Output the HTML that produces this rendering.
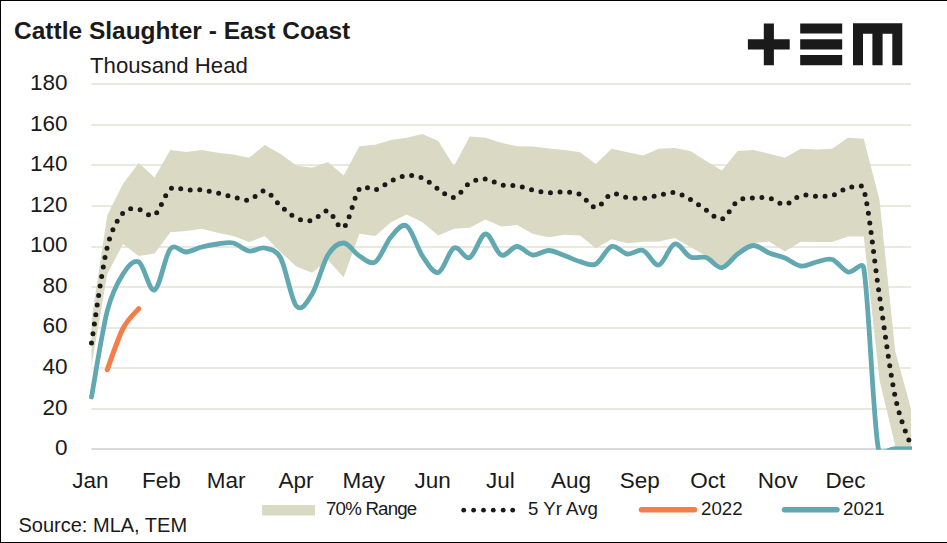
<!DOCTYPE html>
<html><head><meta charset="utf-8">
<style>
html,body{margin:0;padding:0;background:#fff;}
body{width:947px;height:543px;position:relative;overflow:hidden;font-family:"Liberation Sans",sans-serif;color:#1a1a1a;}
.frame{position:absolute;left:0;top:0;width:947px;height:543px;box-sizing:border-box;border-top:1px solid #000;border-left:1px solid #000;border-bottom:1px solid #000;}
svg{position:absolute;left:0;top:0;}
.t{position:absolute;white-space:nowrap;line-height:1;}
.title{left:14px;top:19px;font-size:24.5px;font-weight:bold;}
.sub{left:90px;top:54.9px;font-size:22.2px;}
.yl{position:absolute;right:879.5px;font-size:22.5px;line-height:22.5px;margin-top:-11.6px;white-space:nowrap;}
.xl{position:absolute;top:469.6px;font-size:22.5px;line-height:22.5px;white-space:nowrap;transform:translateX(-50%);}
.leg{position:absolute;top:499.7px;font-size:18.7px;line-height:18.7px;white-space:nowrap;}
.src{left:18.5px;top:515.3px;font-size:20px;}
</style></head><body>
<div class="frame"></div>
<svg width="947" height="543" viewBox="0 0 947 543">
  <defs><clipPath id="pc"><rect x="0" y="0" width="912" height="449.8"/></clipPath></defs>
  <g stroke="#e9e9dd" stroke-width="2"><line x1="91.5" y1="409.00" x2="911" y2="409.00"/><line x1="91.5" y1="368.00" x2="911" y2="368.00"/><line x1="91.5" y1="328.00" x2="911" y2="328.00"/><line x1="91.5" y1="287.00" x2="911" y2="287.00"/><line x1="91.5" y1="247.00" x2="911" y2="247.00"/><line x1="91.5" y1="206.00" x2="911" y2="206.00"/><line x1="91.5" y1="165.00" x2="911" y2="165.00"/><line x1="91.5" y1="125.00" x2="911" y2="125.00"/><line x1="91.5" y1="84.00" x2="911" y2="84.00"/></g>
  <path d="M91.50,320.00 L107.26,215.50 L123.02,183.80 L138.78,163.10 L154.54,177.50 L170.30,150.10 L186.06,152.00 L201.82,150.10 L217.58,152.70 L233.34,154.50 L249.10,157.80 L264.86,145.00 L280.62,154.00 L296.38,165.50 L312.14,167.70 L327.90,162.10 L343.66,175.40 L359.42,146.20 L375.18,144.80 L390.94,140.00 L406.70,137.70 L422.46,134.00 L438.22,141.10 L453.98,166.10 L469.74,136.60 L485.50,137.70 L501.26,142.80 L517.02,146.20 L532.78,146.60 L548.54,148.40 L564.30,150.00 L580.06,152.20 L595.82,163.90 L611.58,148.80 L627.34,152.20 L643.10,155.50 L658.86,148.80 L674.62,147.90 L690.38,151.00 L706.14,161.00 L721.90,170.60 L737.66,151.00 L753.42,149.90 L769.18,153.70 L784.94,157.70 L800.70,148.80 L816.46,149.50 L832.22,148.80 L847.98,137.70 L863.74,138.80 L879.50,200.00 L895.26,351.60 L911.02,409.00 L911.02,446.00 L895.26,446.00 L879.50,380.00 L863.74,236.60 L847.98,236.60 L832.22,242.10 L816.46,242.10 L800.70,241.70 L784.94,251.40 L769.18,241.60 L753.42,243.00 L737.66,253.00 L721.90,266.00 L706.14,256.00 L690.38,247.00 L674.62,238.10 L658.86,241.50 L643.10,241.70 L627.34,243.20 L611.58,239.20 L595.82,248.30 L580.06,235.50 L564.30,234.80 L548.54,237.30 L532.78,233.70 L517.02,225.10 L501.26,226.60 L485.50,219.50 L469.74,227.70 L453.98,228.80 L438.22,235.50 L422.46,222.20 L406.70,214.40 L390.94,222.20 L375.18,236.10 L359.42,233.70 L343.66,277.20 L327.90,259.90 L312.14,272.70 L296.38,266.50 L280.62,252.00 L264.86,236.10 L249.10,242.10 L233.34,236.10 L217.58,232.80 L201.82,228.80 L186.06,231.00 L170.30,232.20 L154.54,253.40 L138.78,256.00 L123.02,244.00 L107.26,274.00 L91.50,366.00 Z" fill="#d9d9c4"/>
  <line x1="91.5" y1="449" x2="911.5" y2="449" stroke="#d9d9d9" stroke-width="2"/>
  <g clip-path="url(#pc)"><path d="M91.50,343.00 C94.13,327.00 102.01,268.67 107.26,247.00 C111.68,228.79 117.77,219.25 123.02,213.00 C128.21,206.82 133.53,209.17 138.78,209.50 C144.03,209.83 149.29,218.42 154.54,215.00 C159.79,211.58 165.05,193.17 170.30,189.00 C175.55,184.83 180.81,189.83 186.06,190.00 C191.31,190.17 196.57,189.50 201.82,190.00 C207.07,190.50 212.33,191.83 217.58,193.00 C222.83,194.17 228.09,195.83 233.34,197.00 C238.59,198.17 243.85,201.00 249.10,200.00 C254.35,199.00 259.61,190.00 264.86,191.00 C270.11,192.00 275.37,201.50 280.62,206.00 C285.87,210.50 291.13,215.58 296.38,218.00 C301.63,220.42 306.89,221.67 312.14,220.50 C317.39,219.33 322.65,209.83 327.90,211.00 C333.15,212.17 338.41,231.17 343.66,227.50 C348.91,223.83 354.17,195.25 359.42,189.00 C364.50,182.96 369.93,191.33 375.18,190.00 C380.43,188.67 385.69,183.42 390.94,181.00 C396.19,178.58 401.45,176.00 406.70,175.50 C411.95,175.00 417.21,175.75 422.46,178.00 C427.71,180.25 432.97,185.75 438.22,189.00 C443.47,192.25 448.73,198.50 453.98,197.50 C459.23,196.50 464.49,186.08 469.74,183.00 C474.99,179.92 480.25,178.70 485.50,179.00 C490.75,179.30 496.01,183.67 501.26,184.80 C506.51,185.93 511.77,184.93 517.02,185.80 C522.27,186.67 527.53,188.85 532.78,190.00 C538.03,191.15 543.29,192.37 548.54,192.70 C553.79,193.03 559.05,191.70 564.30,192.00 C569.55,192.30 574.81,191.92 580.06,194.50 C585.31,197.08 590.57,207.58 595.82,207.50 C601.07,207.42 606.33,195.67 611.58,194.00 C616.83,192.33 622.09,196.78 627.34,197.50 C632.59,198.22 637.85,198.67 643.10,198.30 C648.35,197.93 653.61,196.27 658.86,195.30 C664.11,194.33 669.37,191.80 674.62,192.50 C679.87,193.20 685.13,196.58 690.38,199.50 C695.63,202.42 700.89,206.75 706.14,210.00 C711.39,213.25 716.65,220.50 721.90,219.00 C727.15,217.50 732.41,204.50 737.66,201.00 C742.91,197.50 748.17,198.50 753.42,198.00 C758.67,197.50 763.93,196.92 769.18,198.00 C774.43,199.08 779.69,204.92 784.94,204.50 C790.19,204.08 795.45,196.87 800.70,195.50 C805.95,194.13 811.21,196.32 816.46,196.30 C821.71,196.28 826.97,196.78 832.22,195.40 C837.47,194.02 842.73,188.98 847.98,188.00 C853.23,187.02 861.52,181.90 863.74,189.50 C868.99,207.50 874.25,261.42 879.50,296.00 C884.75,330.58 890.01,372.00 895.26,397.00 C900.51,422.00 908.39,437.83 911.02,446.00" fill="none" stroke="#1a1a1a" stroke-width="5" stroke-linecap="round" stroke-dasharray="0 9.6"/>
  <path d="M91.50,397.00 C94.13,382.67 102.01,331.50 107.26,311.00 C112.25,291.52 117.77,282.17 123.02,274.00 C128.27,265.83 133.53,259.33 138.78,262.00 C144.03,264.67 149.29,292.17 154.54,290.00 C159.79,287.83 165.05,255.33 170.30,249.00 C175.42,242.83 180.81,252.33 186.06,252.00 C191.31,251.67 196.57,248.33 201.82,247.00 C207.07,245.67 212.33,244.67 217.58,244.00 C222.83,243.33 228.09,241.83 233.34,243.00 C238.59,244.17 243.85,250.17 249.10,251.00 C254.35,251.83 259.61,246.83 264.86,248.00 C270.11,249.17 276.16,249.80 280.62,258.00 C285.87,267.67 291.13,300.00 296.38,306.00 C301.63,312.00 306.93,302.43 312.14,294.00 C317.39,285.50 322.65,263.50 327.90,255.00 C333.11,246.57 338.41,242.83 343.66,243.00 C348.91,243.17 354.17,252.83 359.42,256.00 C364.67,259.17 369.93,265.17 375.18,262.00 C380.43,258.83 385.69,243.00 390.94,237.00 C396.19,231.00 401.45,222.83 406.70,226.00 C411.95,229.17 417.21,248.25 422.46,256.00 C427.71,263.75 432.97,273.83 438.22,272.50 C443.47,271.17 448.73,250.50 453.98,248.00 C459.23,245.50 464.49,259.83 469.74,257.50 C474.99,255.17 480.25,234.42 485.50,234.00 C490.75,233.58 496.01,252.92 501.26,255.00 C506.51,257.08 511.77,246.50 517.02,246.50 C522.27,246.50 527.53,254.33 532.78,255.00 C538.03,255.67 543.29,250.43 548.54,250.50 C553.79,250.57 559.05,253.55 564.30,255.40 C569.55,257.25 574.81,260.17 580.06,261.60 C585.31,263.03 590.57,266.52 595.82,264.00 C601.07,261.48 606.33,248.17 611.58,246.50 C616.83,244.83 622.09,253.33 627.34,254.00 C632.59,254.67 637.85,248.67 643.10,250.50 C648.35,252.33 653.61,266.08 658.86,265.00 C664.11,263.92 669.37,245.33 674.62,244.00 C679.87,242.67 685.13,254.73 690.38,257.00 C695.63,259.27 700.89,255.83 706.14,257.60 C711.39,259.37 716.65,268.20 721.90,267.60 C727.15,267.00 732.41,257.68 737.66,254.00 C742.91,250.32 748.17,245.67 753.42,245.50 C758.67,245.33 763.93,250.92 769.18,253.00 C774.43,255.08 779.69,255.83 784.94,258.00 C790.19,260.17 795.45,265.33 800.70,266.00 C805.95,266.67 811.21,263.08 816.46,262.00 C821.71,260.92 826.97,257.83 832.22,259.50 C837.47,261.17 842.73,270.58 847.98,272.00 C853.23,273.42 862.36,259.99 863.74,268.00 C868.79,297.43 873.05,418.50 878.30,448.60 C879.76,456.95 889.81,448.60 895.26,448.60 C900.71,448.60 908.39,448.60 911.02,448.60" fill="none" stroke="#62a8b1" stroke-width="4.8" stroke-linecap="round" stroke-linejoin="round"/>
  <path d="M107.26,369.70 C109.89,362.83 117.77,338.68 123.02,328.50 C128.27,318.32 136.15,311.92 138.78,308.60" fill="none" stroke="#f47d4a" stroke-width="5" stroke-linecap="round" stroke-linejoin="round"/></g>
  <!-- logo -->
  <path fill="#1a1a1a" d="M747.9,39.2H789.7V49.6H747.9z M763.8,23.4H773.9V65.2H763.8z M800.2,23.4H842.2V33.6H800.2z M800.2,39.2H842.2V49.6H800.2z M800.2,55.1H842.2V65.2H800.2z M853,23.3H902.3V33.8H853z M853,23.3H863V65.3H853z M872.4,23.3H882.6V65.3H872.4z M892.3,23.3H902.3V65.3H892.3z"/>
  <!-- legend -->
  <rect x="262" y="505" width="53" height="10.5" fill="#d9d9c4"/>
  <g fill="#1a1a1a">
    <circle cx="463.7" cy="510.2" r="2.4"/><circle cx="473.6" cy="510.2" r="2.4"/><circle cx="483.5" cy="510.2" r="2.4"/>
    <circle cx="493.3" cy="510.2" r="2.4"/><circle cx="503.2" cy="510.2" r="2.4"/><circle cx="512.7" cy="510.2" r="2.4"/>
  </g>
  <line x1="641.5" y1="509.8" x2="694.5" y2="509.8" stroke="#f47d4a" stroke-width="5.5" stroke-linecap="round"/>
  <line x1="784.5" y1="509.8" x2="837" y2="509.8" stroke="#62a8b1" stroke-width="5.5" stroke-linecap="round"/>
</svg>
<div class="t title">Cattle Slaughter - East Coast</div>
<div class="t sub">Thousand Head</div>
<div class="yl" style="top:448.6px">0</div><div class="yl" style="top:408.1px">20</div><div class="yl" style="top:367.5px">40</div><div class="yl" style="top:327.0px">60</div><div class="yl" style="top:286.5px">80</div><div class="yl" style="top:245.9px">100</div><div class="yl" style="top:205.4px">120</div><div class="yl" style="top:164.9px">140</div><div class="yl" style="top:124.3px">160</div><div class="yl" style="top:83.8px">180</div>
<div class="xl" style="left:90.3px">Jan</div><div class="xl" style="left:161.4px">Feb</div><div class="xl" style="left:226.2px">Mar</div><div class="xl" style="left:295.9px">Apr</div><div class="xl" style="left:363.7px">May</div><div class="xl" style="left:432.6px">Jun</div><div class="xl" style="left:500.3px">Jul</div><div class="xl" style="left:571.0px">Aug</div><div class="xl" style="left:639.8px">Sep</div><div class="xl" style="left:707.7px">Oct</div><div class="xl" style="left:777.7px">Nov</div><div class="xl" style="left:845.5px">Dec</div>
<div class="leg" style="left:326px;letter-spacing:-0.8px">70% Range</div>
<div class="leg" style="left:528px">5 Yr Avg</div>
<div class="leg" style="left:701px">2022</div>
<div class="leg" style="left:843px">2021</div>
<div class="t src">Source: MLA, TEM</div>
</body></html>
